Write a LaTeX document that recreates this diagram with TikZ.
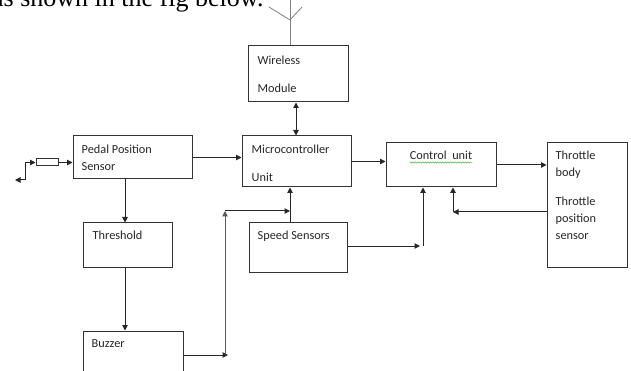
\documentclass[tikz,border=0pt]{standalone}
\usepackage{fontspec}
\newfontfamily\boxfont{Carlito}
\newfontfamily\bodyfont{Liberation Serif}
\usetikzlibrary{arrows.meta,positioning,calc,decorations.pathmorphing}

\tikzset{
  blk/.style={draw=black!80, line width=1pt, rectangle, inner sep=0pt},
  blktext/.style={anchor=base west, inner sep=0pt, align=left, text=black!85,
    font=\boxfont\fontsize{12.3}{17}\selectfont},
  wire/.style={line width=1pt, draw=black!85, -{Triangle[length=5.5pt,width=5.5pt]}},
  wire2/.style={line width=1pt, draw=black!85, {Triangle[length=5.5pt,width=5.5pt]}-{Triangle[length=5.5pt,width=5.5pt]}},
}

\begin{document}
\begin{tikzpicture}[x=1pt, y=-1pt]
		%%%%% START %%%%%
		\useasboundingbox (0,0) rectangle (631,371);
		\clip (0,0) rectangle (631,371);
		
		% running text above the figure
		\node[anchor=base west, inner sep=0pt, font=\bodyfont\fontsize{26}{30}\selectfont] (intro) at (-8,7) {as shown in the fig below.};
		
		% blocks
		\node[blk, minimum width=100, minimum height=56] (wifi) at (298,74) {};
		\node[blk, minimum width=109, minimum height=51] (mcu) at (296.5,161.5) {};
		\node[blk, minimum width=119, minimum height=43] (pps) at (132.5,157.5) {};
		\node[blk, minimum width=89, minimum height=44] (thr) at (127.5,245) {};
		\node[blk, minimum width=100, minimum height=60] (buz) at (133,361) {};
		\node[blk, minimum width=98, minimum height=49] (spd) at (298,247.5) {};
		\node[blk, minimum width=110, minimum height=44] (ctl) at (441,165) {};
		\node[blk, minimum width=80, minimum height=124] (thb) at (587,205) {};
		\node[blk, minimum width=22, minimum height=7] (sig) at (47,162.5) {};
		
		% block texts (base = last line)
		\node[blktext] (wifi-t) at ([shift={(10,47)}]wifi.north west) {Wireless\\[11pt]Module};
		\node[blktext] (mcu-t) at ([shift={(10,46)}]mcu.north west) {Microcontroller\\[11pt]Unit};
		\node[blktext] (pps-t) at ([shift={(9,35)}]pps.north west) {Pedal Position\\Sensor};
		\node[blktext] (thr-t) at ([shift={(10,17)}]thr.north west) {Threshold};
		\node[blktext] (buz-t) at ([shift={(9,17)}]buz.north west) {Buzzer};
		\node[blktext] (spd-t) at ([shift={(9,17)}]spd.north west) {Speed Sensors};
		\node[blktext] (thb-t) at ([shift={(9,97)}]thb.north west) {Throttle\\body\\[12pt]Throttle\\position\\sensor};
		\node[blktext, anchor=base] (ctl-t) at ([yshift=5pt]ctl.center) {Control\ \ unit};
		\draw[green!60!black!70, line width=0.5pt, decorate,
		      decoration={snake, amplitude=0.7pt, segment length=2.5pt}]
		  ([yshift=-2.5pt]ctl-t.base west) -- ([yshift=-2.5pt]ctl-t.base east);
		
		% antenna
		\coordinate (ant) at (290,20);
		\draw[black!50, line width=1pt] (ant |- intro.north) -- (ant |- wifi.north);
		\draw[black!50, line width=0.8pt] (269,7) -- (ant) -- (302,7);
		
		% pedal input
		\coordinate (lead) at (15,180);
		\draw[wire2] (lead) -- ++(10,0) |- (sig.west);
		\draw[wire] (sig.east) -- (sig.east -| pps.west);
		
		% connectors
		\draw[wire2] ([xshift=-2pt]wifi.south) -- ([xshift=-2pt]wifi.south |- mcu.north);
		\draw[wire] (pps.east) -- (pps.east -| mcu.west);
		\draw[wire] ([xshift=-7.5pt]pps.south) -- ([xshift=-7.5pt]pps.south |- thr.north);
		\draw[wire] ([xshift=-2.5pt]thr.south) -- ([xshift=-2.5pt]thr.south |- buz.north);
		
		\coordinate (bus) at (225,211);
		\coordinate (bus-end) at (228,355);
		\draw[wire] (buz.east |- bus-end) -- (bus-end);
		\draw[wire, draw=black!65] (bus |- bus-end) -- (bus);
		\draw[wire] (bus) -- ([xshift=-8pt]bus -| spd.north);
		\draw[wire] ([xshift=-8pt]spd.north) -- ([xshift=-8pt]spd.north |- mcu.south);
		
		\coordinate (k) at (423,246);
		\draw[wire] (spd.east |- k) -- ([xshift=-3pt]k);
		\draw[wire] (k) -- (k |- ctl.south);
		
		\draw[wire] (mcu.east) -- (mcu.east -| ctl.west);
		\draw[wire] (ctl.east) -- (ctl.east -| thb.west);
		
		\coordinate (fb) at (453,212);
		\draw[wire] (thb.west |- fb) -- (fb);
		\draw[wire] (fb) -- (fb |- ctl.south);
		%%%%% END %%%%%
\end{tikzpicture}
\end{document}
